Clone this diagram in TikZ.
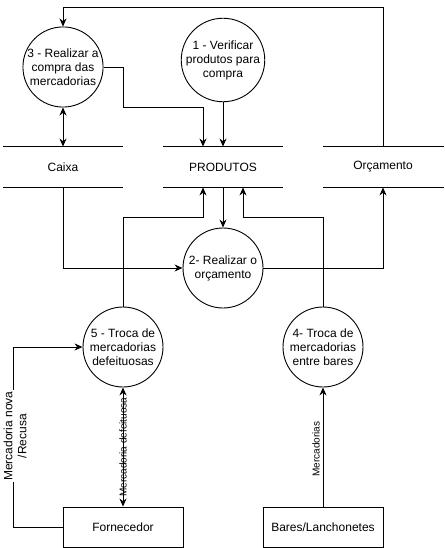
\documentclass[tikz,border=0pt]{standalone}
\usepackage{fontspec}
\setmainfont{Liberation Sans}
\usetikzlibrary{arrows.meta}
\begin{document}
\begin{tikzpicture}[x=1pt,y=-1pt,line width=0.9pt,
  proc/.style={circle,draw,minimum size=80pt,inner sep=0pt,align=center,
    font=\fontsize{12}{14}\selectfont},
  ent/.style={rectangle,draw,minimum width=120pt,minimum height=40pt,
    font=\fontsize{12}{14}\selectfont},
  store/.style={minimum width=120pt,minimum height=40pt,inner sep=0pt,
    font=\fontsize{12}{14}\selectfont},
  tip/.tip={Stealth[length=8pt,width=7pt]},
  flow/.style={-tip},
  both/.style={tip-tip},
  lbl/.style={font=\fontsize{10}{12}\selectfont,rotate=90,inner sep=1pt},
]
\useasboundingbox (0,0) rectangle (444,548);
\fill[white] (0,0) rectangle (444,548);

% processes
\node[proc] (p3) at (63,67) {3 - Realizar a\\compra das\\mercadorias};
\node[proc] (p1) at (223,60) {1 - Verificar\\produtos para\\compra};
\node[proc] (p2) at (223,268) {2- Realizar o\\orçamento};
\node[proc] (p5) at (123,347) {5 - Troca de\\mercadorias\\defeituosas};
\node[proc] (p4) at (323,347) {4- Troca de\\mercadorias\\entre bares};

% data stores
\node[store] (caixa) at (63,167) {Caixa};
\node[store] (prod) at (223,167) {PRODUTOS};
\node[store] (orc) at (383,167) {Orçamento};
\foreach \s in {caixa,prod} {
  \draw (\s.north west) -- (\s.north east);
  \draw (\s.south west) -- (\s.south east);
}
\draw (orc.north west) -- ++(121,0);
\draw (orc.south west) -- ++(121,0);

% external entities
\node[ent] (forn) at (123,527) {Fornecedor};
\node[ent] (bares) at (323,527) {Bares/Lanchonetes};

% flows
\coordinate (loop) at (63,7);
\draw[flow] (orc.north) |- (loop) -- (p3.north);
\draw[both] (p3.south) -- (caixa.north);
\draw[flow] (p3.east) -| (123,107) -| ([xshift=-20pt]prod.north);
\draw[flow] (p1.south) -- (prod.north);
\draw[flow] (caixa.south) |- (p2.west);
\draw[flow] (p2.east) -| (orc.south);
\draw[flow] (prod.south) -- (p2.north);
\draw[flow] (p5.north) -- (123,217) -| ([xshift=-20pt]prod.south);
\draw[flow] (p4.north) -- (323,217) -| ([xshift=20pt]prod.south);
\draw[flow] (forn.west) -| (13,347) -- (p5.west);
\node[lbl,fill=white,align=center,font=\fontsize{12}{14}\selectfont] (lnova) at (15,436)
  {Mercadoria nova\\/Recusa};
\draw[both] (p5.south) -- (forn.north);
\node[lbl] (ldef) at (123,447) {Mercadoria defeituosa};
\draw[flow] (bares.north) -- (p4.south);
\node[lbl] (lmerc) at (316,449) {Mercadorias};
\end{tikzpicture}
\end{document}
